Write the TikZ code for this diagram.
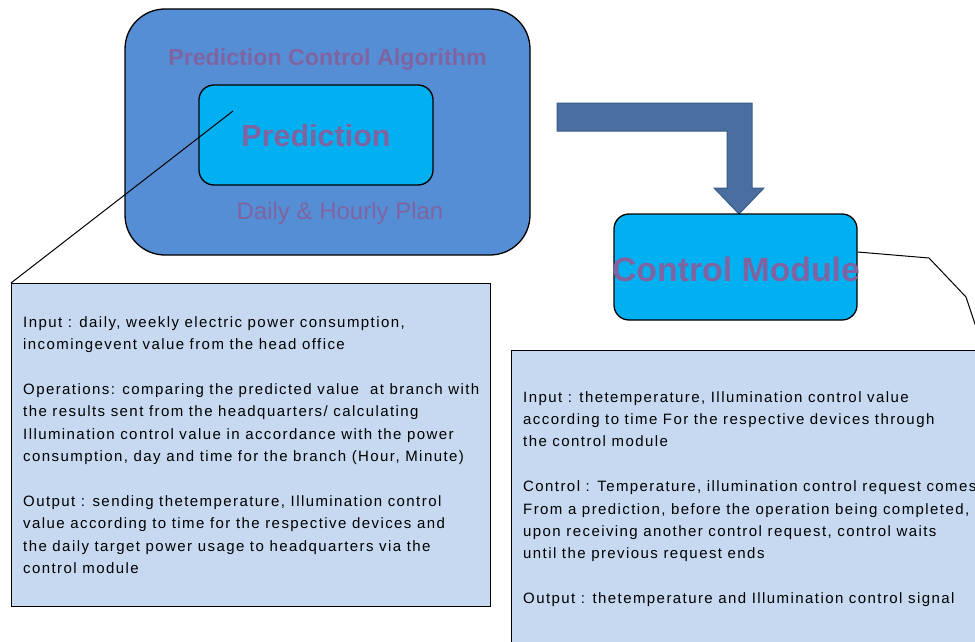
\documentclass[tikz,border=0pt]{standalone}
\usepackage{fontspec}
\setmainfont{Liberation Sans}
\newfontfamily\notefont[LetterSpace=9.5]{Liberation Sans}
\usetikzlibrary{positioning}

\definecolor{outerblue}{HTML}{558ED5}
\definecolor{cyanbox}{HTML}{00B0F0}
\definecolor{notefill}{HTML}{C6D9F1}
\definecolor{purpletxt}{HTML}{8064A2}
\definecolor{arrowblue}{HTML}{4A6E9F}
\definecolor{arrowedge}{HTML}{385D8A}

\tikzset{
  module/.style={draw=black, line width=1.3pt, fill=cyanbox, rounded corners=15pt, inner sep=0pt},
  notebox/.style={draw=black, line width=1.3pt, fill=notefill, inner sep=0pt, anchor=north west},
  notetext/.style={align=left, inner sep=0pt, anchor=north west, font=\notefont\fontsize{15}{22.4}\selectfont},
  headtext/.style={text=purpletxt, font=\bfseries}
}

\begin{document}
\begin{tikzpicture}[x=1pt, y=-1pt]
    \clip (0,0) rectangle (975,642);
    \fill[white] (0,0) rectangle (975,642);

    % Algorithm block
    \node[draw=black, line width=1.3pt, fill=outerblue, rounded corners=40pt,
          minimum width=405pt, minimum height=246pt] (algo) at (327.5,132) {};
    \node[headtext, font=\bfseries\fontsize{23.2}{26}\selectfont] (algotitle) at (327.5,60) {Prediction Control Algorithm};
    \node[module, minimum width=234pt, minimum height=100pt] (pred) at (316,135) {};
    \node[headtext, font=\bfseries\fontsize{30.5}{34}\selectfont] (predtext) at (316,136) {Prediction};
    \node[text=purpletxt, font=\fontsize{24}{28}\selectfont] (plan) at (340,213) {Daily \& Hourly Plan};

    % Block arrow
    \draw[fill=arrowblue, draw=arrowedge, line width=1pt]
        (557,103) -- (752,103) -- (752,188) -- (764,188) -- (739,214)
        -- (714,188) -- (727,188) -- (727,131) -- (557,131) -- cycle;

    % Control module
    \node[module, minimum width=243pt, minimum height=106pt] (ctrl) at (735.5,267) {};
    \node[headtext, font=\bfseries\fontsize{33.8}{38}\selectfont] (ctrltext) at (736,269) {Control Module};

    % Notes
    \node[notebox, minimum width=479pt, minimum height=323pt] (prednote) at (11,283) {};
    \node[notetext] (predtxt) at (23,316) {Input : daily, weekly electric power consumption,\\
incomingevent value from the head office\\[22.4pt]
Operations: comparing the predicted value \ at branch with\\
the results sent from the headquarters/ calculating\\
Illumination control value in accordance with the power\\
consumption, day and time for the branch (Hour, Minute)\\[22.4pt]
Output : sending thetemperature, Illumination control\\
value according to time for the respective devices and\\
the daily target power usage to headquarters via the\\
control module};

    \node[notebox, minimum width=480pt, minimum height=310pt] (ctrlnote) at (511,350) {};
    \node[notetext] (ctrltxt) at (523,391) {Input : thetemperature, Illumination control value\\
according to time For the respective devices through\\
the control module\\[22.4pt]
Control : Temperature, illumination control request comes\\
From a prediction, before the operation being completed,\\
upon receiving another control request, control waits\\
until the previous request ends\\[22.4pt]
Output : thetemperature and Illumination control signal};

    % Callout lines
    \coordinate (predpt) at (233,111);
    \coordinate (cbend1) at (929,258);
    \coordinate (cbend2) at (966,297);
    \coordinate (cend) at (982,345);
    \draw[line width=1pt] (predpt) -- (prednote.north west);
    \draw[line width=1pt] (ctrl.east |- 0,252) -- (cbend1) -- (cbend2) -- (cend);
\end{tikzpicture}
\end{document}
